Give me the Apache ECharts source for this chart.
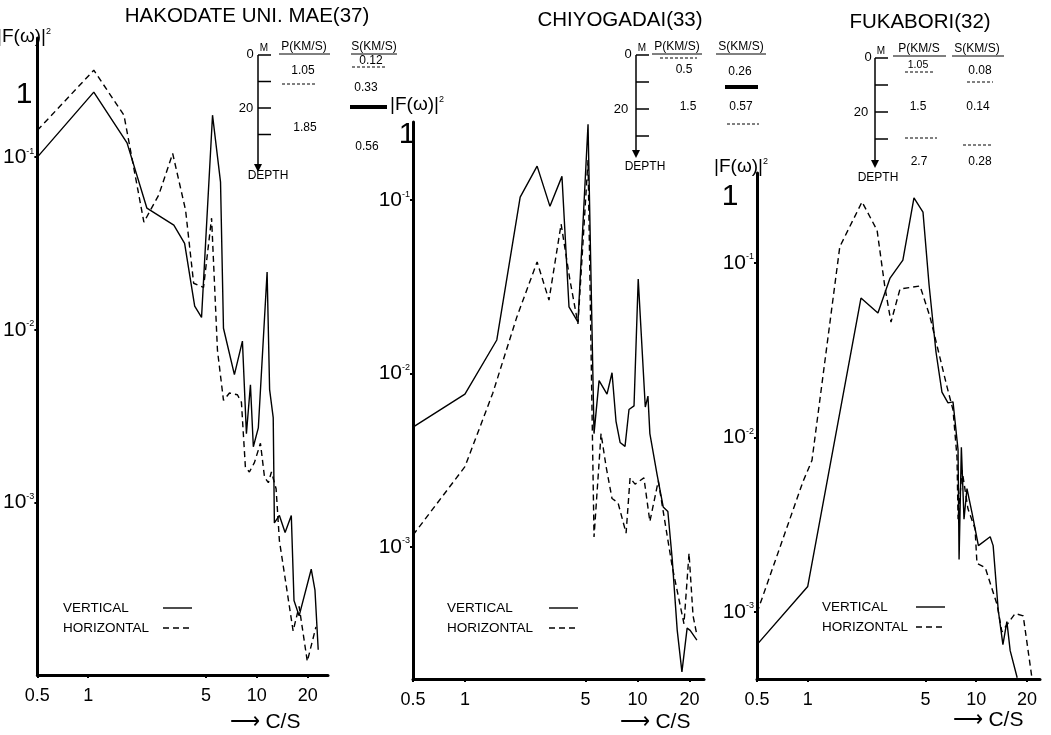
<!DOCTYPE html>
<html>
<head>
<meta charset="utf-8">
<script src="https://cdn.jsdelivr.net/npm/echarts@6/dist/echarts.min.js"></script>
<style>
  html, body { margin: 0; background: #fff; }
  #chart { width: 1051px; height: 735px; }
</style>
</head>
<body>
<div id="chart"></div>
<script>
// 三个观测点的 |F(ω)|² 频谱（竖向/水平）
const stations = ['HAKODATE UNI. MAE(37)', 'CHIYOGADAI(33)', 'FUKABORI(32)'];
const seriesNames = ['VERTICAL', 'HORIZONTAL'];
const freqTicks = [0.5, 1, 5, 10, 20];
const ampTicks = [1e-3, 1e-2, 1e-1];

// HAKODATE UNI. MAE
const hakoVFreq = [0.5, 1.08, 1.70, 2.23, 3.22, 3.73, 4.28, 4.70, 5.46, 6.09, 6.34, 7.36, 8.21, 8.67, 9.16, 9.53, 10.2, 11.5, 11.9, 12.5, 12.7, 13.6, 14.7, 16.0, 16.6, 17.8, 21.0, 22.1, 23.1];
const hakoVAmp = [0.1, 0.238, 0.121, 0.0506, 0.0404, 0.0317, 0.0137, 0.0118, 0.175, 0.0716, 0.0102, 0.0055, 0.0086, 0.0025, 0.0048, 0.0021, 0.0027, 0.0216, 0.0045, 0.0031, 0.00076, 0.00084, 0.00067, 0.00084, 0.00027, 0.00022, 0.00041, 0.00031, 0.00014];
const hakoHFreq = [0.5, 1.08, 1.63, 2.14, 2.62, 3.17, 3.78, 4.22, 4.83, 5.39, 5.84, 6.34, 6.88, 7.67, 8.10, 8.55, 9.03, 9.67, 10.5, 11.1, 11.7, 12.2, 13.0, 13.6, 16.4, 17.8, 19.9, 22.4];
const hakoHAmp = [0.143, 0.319, 0.175, 0.042, 0.0603, 0.105, 0.0493, 0.0186, 0.0176, 0.0443, 0.0076, 0.0039, 0.0043, 0.0042, 0.0038, 0.0016, 0.0015, 0.0017, 0.0022, 0.0014, 0.0013, 0.0015, 0.0012, 0.0006, 0.00018, 0.00025, 0.00012, 0.00019];

// CHIYOGADAI
const chiyoVFreq = [0.5, 1.0, 1.53, 2.09, 2.62, 3.11, 3.65, 4.01, 4.52, 5.17, 5.60, 5.99, 6.66, 7.12, 7.51, 7.93, 8.47, 8.93, 9.55, 10.1, 11.1, 11.5, 11.8, 13.0, 14.1, 15.0, 15.9, 17.0, 18.1, 19.4, 20.2, 22.1];
const chiyoVAmp = [0.0049, 0.0076, 0.0156, 0.104, 0.157, 0.092, 0.137, 0.0242, 0.0198, 0.274, 0.0045, 0.0091, 0.0076, 0.0101, 0.0053, 0.0040, 0.0038, 0.0062, 0.0065, 0.035, 0.0064, 0.0074, 0.0045, 0.0026, 0.0017, 0.0016, 0.00085, 0.00033, 0.00019, 0.00034, 0.00033, 0.00029];
const chiyoHFreq = [0.5, 1.0, 1.45, 2.0, 2.62, 3.07, 3.61, 4.06, 4.52, 5.17, 5.60, 6.15, 6.58, 7.12, 7.71, 8.59, 9.06, 9.68, 10.9, 11.8, 13.2, 14.1, 15.9, 18.6, 19.9, 21.0, 22.1];
const chiyoHAmp = [0.00117, 0.0029, 0.0077, 0.0212, 0.044, 0.0265, 0.0727, 0.0346, 0.0193, 0.17, 0.00114, 0.0045, 0.0029, 0.0019, 0.0018, 0.0012, 0.0025, 0.0023, 0.0025, 0.0014, 0.0024, 0.0016, 0.00077, 0.00036, 0.00092, 0.0004, 0.00031];

// FUKABORI
const fukaVFreq = [0.5, 1.0, 2.07, 2.61, 3.08, 3.67, 4.27, 4.83, 5.25, 5.77, 6.26, 6.80, 7.28, 7.80, 7.91, 8.16, 8.46, 8.81, 9.44, 10.3, 12.1, 12.6, 13.5, 14.4, 15.2, 15.9, 17.5];
const fukaVAmp = [0.00065, 0.0014, 0.063, 0.0517, 0.082, 0.104, 0.236, 0.196, 0.0748, 0.0309, 0.0182, 0.0158, 0.016, 0.0085, 0.002, 0.0088, 0.0034, 0.0051, 0.0037, 0.0024, 0.0027, 0.0024, 0.00103, 0.00065, 0.00088, 0.0006, 0.00042];
const fukaHFreq = [0.5, 0.938, 1.06, 1.55, 2.10, 2.58, 2.87, 3.12, 3.53, 4.64, 5.32, 6.71, 7.28, 7.69, 7.80, 8.24, 8.93, 9.84, 10.1, 11.3, 13.3, 14.2, 17.0, 19.0, 21.4];
const fukaHAmp = [0.00099, 0.0056, 0.0074, 0.124, 0.224, 0.154, 0.0728, 0.0459, 0.071, 0.0738, 0.0491, 0.0195, 0.0144, 0.0077, 0.0034, 0.0065, 0.0039, 0.003, 0.0019, 0.0018, 0.0011, 0.00077, 0.00098, 0.00095, 0.00042];

const zip = (xs, ys) => xs.map((x, i) => [x, ys[i]]);
const FONT = 'Liberation Sans';

// 每个子图的网格和坐标范围
const panels = [
    { grid: { left: 36, top: 38, width: 292, height: 637 }, xMax: 26.4, yMin: 1e-4, yMax: 0.49,
      v: zip(hakoVFreq, hakoVAmp), h: zip(hakoHFreq, hakoHAmp), legend: [63, 163, 608] },
    { grid: { left: 413, top: 122, width: 291, height: 557 }, xMax: 24.3, yMin: 1.73e-4, yMax: 0.282,
      v: zip(chiyoVFreq, chiyoVAmp), h: zip(chiyoHFreq, chiyoHAmp), legend: [447, 549, 608] },
    { grid: { left: 757, top: 173, width: 283, height: 506 }, xMax: 23.9, yMin: 4.13e-4, yMax: 0.328,
      v: zip(fukaVFreq, fukaVAmp), h: zip(fukaHFreq, fukaHAmp), legend: [822, 916, 607] }
];

const axisLine = { lineStyle: { color: '#000', width: 3 } };

const option = {
    animation: false,
    backgroundColor: '#fff',
    grid: panels.map(p => Object.assign({ containLabel: false }, p.grid)),
    xAxis: panels.map((p, i) => ({
        type: 'log', logBase: 10, gridIndex: i, min: 0.5, max: p.xMax,
        axisLine: axisLine,
        splitLine: { show: false },
        axisTick: { customValues: freqTicks, length: 3, lineStyle: { color: '#000', width: 2 } },
        axisLabel: {
            customValues: freqTicks, margin: 12, color: '#000', fontFamily: FONT, fontSize: 18,
            formatter: v => String(Math.round(v * 10) / 10)
        }
    })),
    yAxis: panels.map((p, i) => ({
        type: 'log', logBase: 10, gridIndex: i, min: p.yMin, max: p.yMax,
        axisLine: axisLine,
        splitLine: { show: false },
        axisTick: { customValues: ampTicks, length: 3, lineStyle: { color: '#000', width: 2 } },
        axisLabel: {
            customValues: ampTicks, margin: 3, color: '#000',
            formatter: v => '{b|10}{s|' + Math.round(Math.log10(v)) + '}',
            rich: {
                b: { fontFamily: FONT, fontSize: 21, color: '#000' },
                s: { fontFamily: FONT, fontSize: 9, color: '#000', verticalAlign: 'top', padding: [0, 0, 9, 0] }
            }
        }
    })),
    series: panels.flatMap((p, i) => [
        { name: seriesNames[0], type: 'line', xAxisIndex: i, yAxisIndex: i, data: p.v, symbol: 'none',
          lineStyle: { color: '#000', width: 1.4, type: 'solid' } },
        { name: seriesNames[1], type: 'line', xAxisIndex: i, yAxisIndex: i, data: p.h, symbol: 'none',
          lineStyle: { color: '#000', width: 1.4, type: [6, 4] } }
    ]),
    graphic: { elements: [] }
};

// 注释：标题、纵轴名、图例、层状地层示意图
const txt = (x, y, s, size, align) => ({
    type: 'text', x: x, y: y, silent: true,
    style: { text: s, fill: '#000', font: (size || 12) + 'px "' + FONT + '"',
             align: align || 'center', verticalAlign: 'middle', textAlign: align || 'center', textVerticalAlign: 'middle' }
});
const seg = (x1, y1, x2, y2, w, dash) => ({
    type: 'line', silent: true, shape: { x1: x1, y1: y1, x2: x2, y2: y2 },
    style: { stroke: '#000', lineWidth: w || 1.2, lineDash: dash || null }
});
const arrow = (x, y) => ({
    type: 'polygon', silent: true, shape: { points: [[x - 4, y - 8], [x + 4, y - 8], [x, y]] }, style: { fill: '#000' }
});
const depthAxis = (x, y0, step, yEnd, zeroX, twentyX) => [
    seg(x, y0, x, yEnd - 6, 1.5), arrow(x, yEnd),
    seg(x, y0, x + 13, y0, 1.5), seg(x, y0 + step, x + 13, y0 + step, 1.5),
    seg(x, y0 + 2 * step, x + 13, y0 + 2 * step, 1.5), seg(x, y0 + 3 * step, x + 13, y0 + 3 * step, 1.5),
    txt(zeroX, y0 - 1, '0', 13), txt(x + 6, y0 - 7, 'M', 10),
    txt(twentyX, y0 + 2 * step, '20', 13)
];
const fTitle = (x, y) => ({
    type: 'text', x: x, y: y, silent: true,
    style: { text: '{a||F(ω)|}{s|2}', fill: '#000', align: 'center', verticalAlign: 'middle',
             rich: { a: { fontFamily: FONT, fontSize: 19, color: '#000' },
                     s: { fontFamily: FONT, fontSize: 9, color: '#000', verticalAlign: 'top', padding: [0, 0, 10, 0] } } }
});
const legendBox = (tx, lx, y) => [
    txt(tx, y, seriesNames[0], 13.5, 'left'), seg(lx, y, lx + 29, y, 1.4),
    txt(tx, y + 20, seriesNames[1], 13.5, 'left'), seg(lx, y + 20, lx + 29, y + 20, 1.4, [6, 4])
];

const g = option.graphic.elements;
g.push(txt(247, 16, stations[0], 20.5), txt(620, 20, stations[1], 20.5), txt(920, 22, stations[2], 20.5));
g.push(fTitle(24, 37), fTitle(417, 105), fTitle(741, 167));
g.push(txt(24, 95, '1', 30), txt(407, 135, '1', 30), txt(730, 197, '1', 30));
g.push(txt(265, 722, '⟶ C/S', 21), txt(655, 722, '⟶ C/S', 21), txt(988, 720, '⟶ C/S', 21));
panels.forEach(p => g.push(...legendBox(p.legend[0], p.legend[1], p.legend[2])));

// HAKODATE 示意
g.push(...depthAxis(258, 55, 26.5, 172, 250, 246));
g.push(txt(268, 176, 'DEPTH', 12));
g.push(txt(304, 47, 'P(KM/S)', 12), seg(279, 54, 330, 54, 1));
g.push(txt(303, 71, '1.05', 12), seg(282, 84, 315, 84, 1, [3, 2]), txt(305, 128, '1.85', 12));
g.push(txt(374, 47, 'S(KM/S)', 12), seg(351, 54, 397, 54, 1));
g.push(txt(371, 61, '0.12', 12), seg(352, 67, 386, 67, 1, [3, 2]));
g.push(txt(366, 88, '0.33', 12), seg(350, 107, 387, 107, 4), txt(367, 147, '0.56', 12));

// CHIYOGADAI 示意
g.push(...depthAxis(636, 55, 27, 158, 628, 621));
g.push(txt(645, 167, 'DEPTH', 12));
g.push(txt(677, 47, 'P(KM/S)', 12), seg(652, 54, 702, 54, 1), seg(660, 58, 697, 58, 1, [3, 2]));
g.push(txt(684, 70, '0.5', 12), txt(688, 107, '1.5', 12));
g.push(txt(741, 47, 'S(KM/S)', 12), seg(716, 54, 766, 54, 1));
g.push(txt(740, 72, '0.26', 12), seg(725, 87, 758, 87, 4), txt(741, 107, '0.57', 12), seg(727, 124, 759, 124, 1, [3, 2]));

// FUKABORI 示意
g.push(...depthAxis(875, 58, 27, 168, 868, 861));
g.push(txt(878, 178, 'DEPTH', 12));
g.push(txt(919, 49, 'P(KM/S', 12), seg(893, 56, 946, 56, 1));
g.push(txt(918, 65, '1.05', 10.5), seg(905, 72, 935, 72, 1, [3, 2]), txt(918, 107, '1.5', 12));
g.push(seg(905, 138, 937, 138, 1, [3, 2]), txt(919, 162, '2.7', 12));
g.push(txt(977, 49, 'S(KM/S)', 12), seg(952, 56, 1004, 56, 1));
g.push(txt(980, 71, '0.08', 12), seg(967, 82, 993, 82, 1, [3, 2]), txt(978, 107, '0.14', 12));
g.push(seg(963, 145, 993, 145, 1, [3, 2]), txt(980, 162, '0.28', 12));

const chart = echarts.init(document.getElementById('chart'));
chart.setOption(option);
</script>
</body>
</html>
